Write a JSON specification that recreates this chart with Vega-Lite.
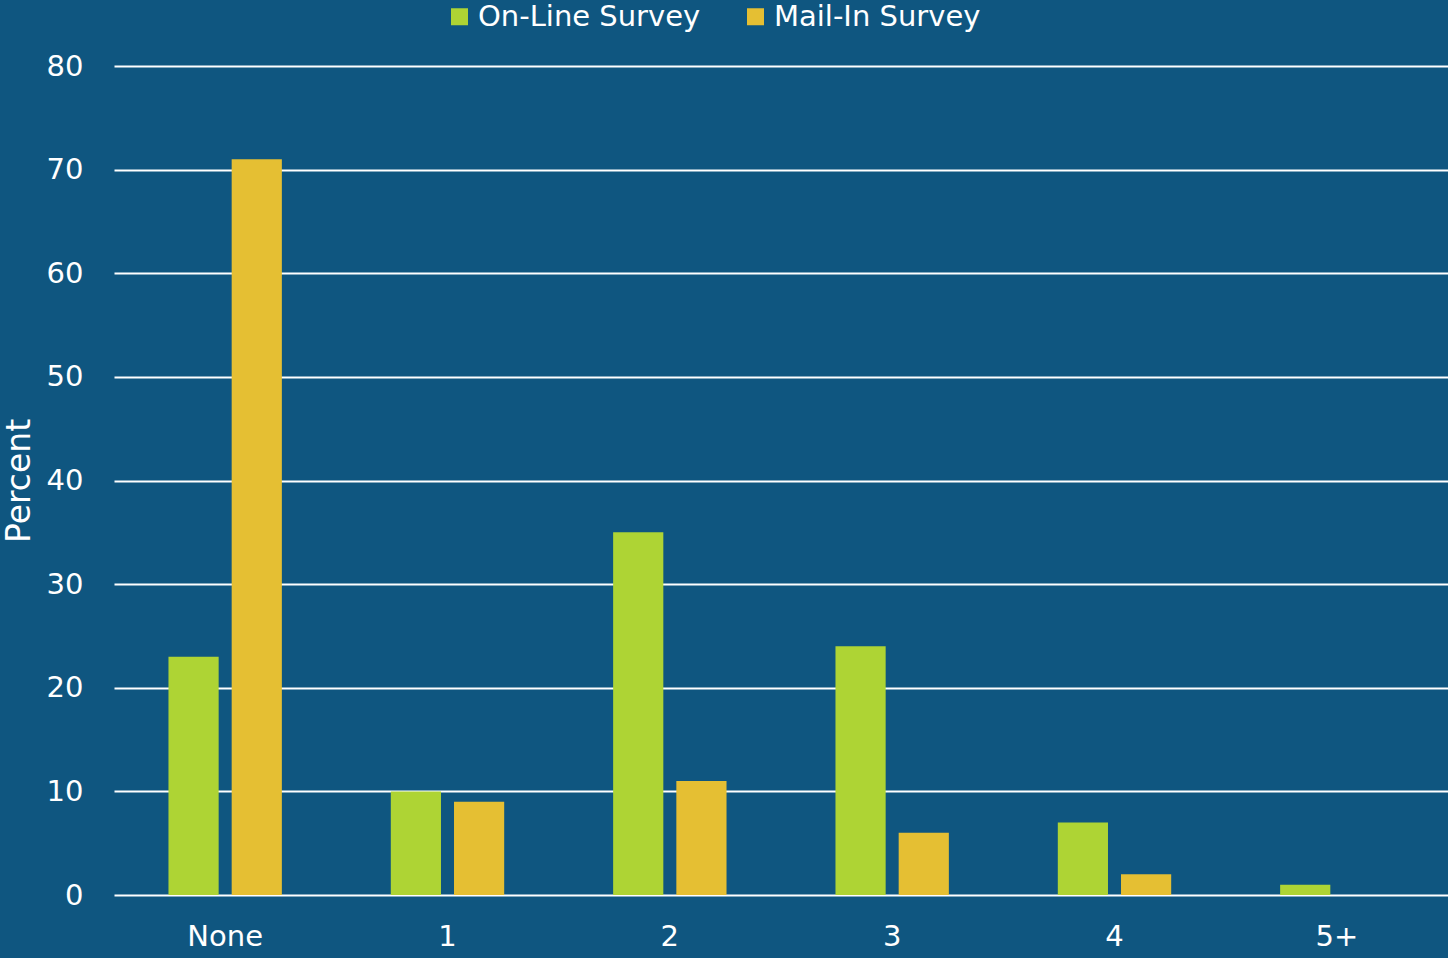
{
  "$schema": "https://vega.github.io/schema/vega-lite/v6.json",
  "width": 1334,
  "height": 829,
  "autosize": {"type": "none"},
  "padding": {"left": 114, "top": 66, "right": 0, "bottom": 63},
  "background": "#0F5680",
  "config": {
    "view": {"stroke": null},
    "font": "DejaVu Sans",
    "axis": {"labelFont": "DejaVu Sans", "titleFont": "DejaVu Sans", "labelColor": "white", "titleColor": "white"},
    "legend": {"labelFont": "DejaVu Sans", "labelColor": "white"}
  },
  "data": {
    "values": [
      {"trips": "None", "survey": "On-Line Survey", "percent": 23},
      {"trips": "None", "survey": "Mail-In Survey", "percent": 71},
      {"trips": "1", "survey": "On-Line Survey", "percent": 10},
      {"trips": "1", "survey": "Mail-In Survey", "percent": 9},
      {"trips": "2", "survey": "On-Line Survey", "percent": 35},
      {"trips": "2", "survey": "Mail-In Survey", "percent": 11},
      {"trips": "3", "survey": "On-Line Survey", "percent": 24},
      {"trips": "3", "survey": "Mail-In Survey", "percent": 6},
      {"trips": "4", "survey": "On-Line Survey", "percent": 7},
      {"trips": "4", "survey": "Mail-In Survey", "percent": 2},
      {"trips": "5+", "survey": "On-Line Survey", "percent": 1},
      {"trips": "5+", "survey": "Mail-In Survey", "percent": 0}
    ]
  },
  "mark": {"type": "bar"},
  "encoding": {
    "x": {
      "field": "trips",
      "type": "nominal",
      "sort": ["None", "1", "2", "3", "4", "5+"],
      "scale": {"paddingInner": 0.49, "paddingOuter": 0.245},
      "axis": {
        "title": null,
        "labelAngle": 0,
        "labelFontSize": 29,
        "labelPadding": 27,
        "ticks": false,
        "domain": false,
        "grid": false
      }
    },
    "xOffset": {
      "field": "survey",
      "type": "nominal",
      "sort": ["On-Line Survey", "Mail-In Survey"],
      "scale": {"paddingInner": 0.206, "paddingOuter": 0}
    },
    "y": {
      "field": "percent",
      "type": "quantitative",
      "scale": {"domain": [0, 80], "nice": false},
      "axis": {
        "title": "Percent",
        "titleFontSize": 33,
        "titleFontWeight": "normal",
        "titlePadding": 10,
        "values": [0, 10, 20, 30, 40, 50, 60, 70, 80],
        "labelFontSize": 29,
        "labelPadding": 31,
        "ticks": false,
        "domain": false,
        "grid": true,
        "gridColor": "white",
        "gridWidth": 2,
        "gridOpacity": 1,
        "zindex": 0
      }
    },
    "color": {
      "field": "survey",
      "type": "nominal",
      "sort": ["On-Line Survey", "Mail-In Survey"],
      "scale": {"domain": ["On-Line Survey", "Mail-In Survey"], "range": ["#AED434", "#E5BF33"]},
      "legend": {
        "title": null,
        "orient": "none",
        "direction": "horizontal",
        "legendX": 331,
        "legendY": -64,
        "padding": 0,
        "symbolType": "square",
        "symbolSize": 289,
        "symbolStrokeWidth": 0,
        "labelFontSize": 29,
        "labelLimit": 0,
        "labelOffset": 4,
        "columnPadding": 40
      }
    }
  }
}
